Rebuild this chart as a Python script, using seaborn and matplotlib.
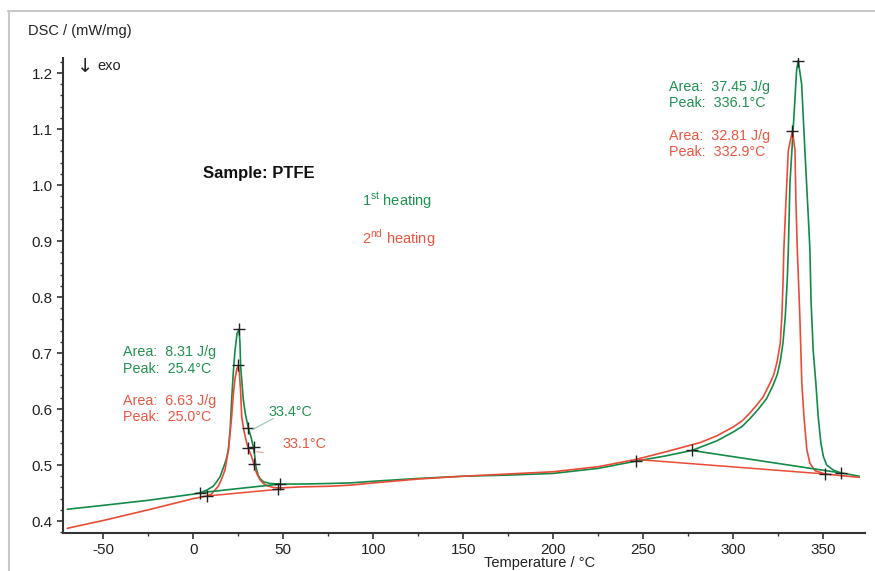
import matplotlib
matplotlib.use("Agg")
import matplotlib.pyplot as plt
from matplotlib.lines import Line2D
from matplotlib.ticker import MultipleLocator, FormatStrFormatter
import pandas as pd
import seaborn as sns

# 1st heating (green): temperature / DSC signal
t_first = [-70, -50, -25, 0, 3.7, 7.4, 11, 13, 15, 16.7, 18.3, 19.5, 20.5, 21.3,
           22.2, 23.2, 24.3, 25.4, 25.9, 26.3, 27.8, 29.0, 30.6, 32.2, 33.3, 34.2,
           34.8, 36.0, 37.0, 39.0, 42.6, 48.2, 60, 75, 87, 100, 125, 150, 175, 200,
           225, 246, 262, 277, 290.8, 300, 305, 309.3, 314, 318.6, 322.2, 324.5,
           326.1, 327.6, 328.9, 330.0, 330.6, 331.5, 333.7, 335.2, 336.1, 338.0,
           339.8, 341.7, 342.6, 343.2, 344.4, 345.9, 347.2, 348.7, 350.1, 351.9,
           355.6, 359.6, 365, 370]
dsc_first = [0.421, 0.428, 0.437, 0.448, 0.4505, 0.455, 0.462, 0.470, 0.480, 0.495,
             0.510, 0.527, 0.565, 0.616, 0.665, 0.705, 0.735, 0.742, 0.720, 0.676,
             0.616, 0.590, 0.566, 0.548, 0.533, 0.515, 0.497, 0.482, 0.476, 0.470,
             0.467, 0.466, 0.466, 0.467, 0.468, 0.471, 0.476, 0.480, 0.482, 0.485,
             0.494, 0.507, 0.516, 0.526, 0.543, 0.559, 0.569, 0.583, 0.600, 0.619,
             0.643, 0.662, 0.685, 0.717, 0.765, 0.830, 0.884, 1.003, 1.122, 1.205,
             1.222, 1.180, 1.062, 0.943, 0.884, 0.795, 0.705, 0.646, 0.586, 0.539,
             0.515, 0.500, 0.491, 0.486, 0.483, 0.480]

# 2nd heating (red)
t_second = [-70, -50, -25, 0, 7.4, 10, 13.9, 15.7, 17.6, 18.6, 19.5, 20.5, 21.3,
            22.2, 23.2, 24.2, 25.0, 25.6, 26.3, 26.9, 28.2, 29.7, 30.5, 32.4, 35.2,
            37.0, 38.9, 41.0, 44.4, 48.2, 60, 75, 87, 100, 125, 150, 175, 200, 225,
            246, 263, 281.5, 290.8, 300, 305, 309.3, 313, 316.7, 320.4, 322.6, 324.4,
            326.1, 327.0, 327.6, 328.1, 329.3, 330.6, 332.9, 334.3, 334.8, 335.6,
            337.0, 338.1, 339.3, 340.9, 342.6, 345.4, 351, 360, 370]
dsc_second = [0.387, 0.401, 0.420, 0.440, 0.4446, 0.448, 0.462, 0.475, 0.491, 0.510,
              0.527, 0.560, 0.586, 0.625, 0.655, 0.672, 0.678, 0.665, 0.630, 0.586,
              0.560, 0.539, 0.530, 0.515, 0.485, 0.474, 0.467, 0.463, 0.460, 0.459,
              0.461, 0.462, 0.464, 0.468, 0.475, 0.480, 0.484, 0.488, 0.497, 0.510,
              0.524, 0.540, 0.552, 0.568, 0.579, 0.593, 0.607, 0.622, 0.646, 0.662,
              0.685, 0.717, 0.765, 0.820, 0.884, 0.973, 1.062, 1.097, 1.062, 0.973,
              0.884, 0.765, 0.646, 0.586, 0.527, 0.503, 0.490, 0.484, 0.481, 0.478]

# integration baselines (start, end)
base_first_t = [[3.7, 48.2], [277, 359.6]]
base_first_y = [[0.4505, 0.466], [0.526, 0.486]]
base_second_t = [[7.4, 47.2], [246, 351]]
base_second_y = [[0.4446, 0.4566], [0.510, 0.484]]

# "+" marks placed by the evaluation software
mark_t = [3.7, 48.2, 25.4, 30.6, 33.9, 33.6, 246, 277, 336.1, 359.6,
          7.4, 47.2, 25.0, 30.3, 332.9, 351]
mark_y = [0.4505, 0.466, 0.742, 0.566, 0.532, 0.502, 0.508, 0.526, 1.222, 0.486,
          0.4446, 0.4566, 0.678, 0.530, 1.097, 0.484]

GREEN = "#138a48"
RED = "#ea4b37"
GREEN_TXT = "#1f9150"
RED_TXT = "#ec5540"

sns.set_theme(style="ticks")
plt.rcParams["font.family"] = ["Liberation Sans", "DejaVu Sans"]
plt.rcParams["mathtext.fontset"] = "custom"
plt.rcParams["mathtext.rm"] = "Liberation Sans"
plt.rcParams["axes.unicode_minus"] = False

curves = pd.concat([
    pd.DataFrame({"T": t_first, "DSC": dsc_first, "run": "1st"}),
    pd.DataFrame({"T": t_second, "DSC": dsc_second, "run": "2nd"}),
])

fig = plt.figure(figsize=(8.75, 5.71), dpi=100)
ax = fig.add_axes([63 / 875, 38 / 571, 802 / 875, 475 / 571])

sns.lineplot(data=curves, x="T", y="DSC", hue="run", sort=False, estimator=None,
             palette={"1st": GREEN, "2nd": RED}, linewidth=1.2, legend=False, ax=ax)

for ts, ys in zip(base_first_t, base_first_y):
    ax.plot(ts, ys, color=GREEN, lw=1.2)
for ts, ys in zip(base_second_t, base_second_y):
    ax.plot(ts, ys, color=RED, lw=1.1)

ax.plot(mark_t, mark_y, ls="none", marker="+", ms=8, mew=1.0, color="#222222")

# leader lines for the inflection temperatures
ax.plot([32.4, 44.4], [0.5625, 0.583], color="#9cc9bf", lw=0.9)
ax.plot([35.2, 38.9], [0.524, 0.522], color="#f2a9a0", lw=0.9)

ax.set_xlim(-72.4, 373.2)
ax.set_ylim(0.3786, 1.2268)
ax.xaxis.set_major_locator(MultipleLocator(50))
ax.xaxis.set_minor_locator(MultipleLocator(25))
ax.yaxis.set_major_locator(MultipleLocator(0.1))
ax.yaxis.set_minor_locator(MultipleLocator(0.02))
ax.yaxis.set_major_formatter(FormatStrFormatter("%.1f"))
ax.tick_params(which="major", direction="out", length=4, width=1.2, labelsize=11,
               color="#333333", labelcolor="#222222")
ax.tick_params(which="minor", direction="out", length=2.5, width=1.0, color="#333333")
sns.despine(ax=ax)
for s in ("left", "bottom"):
    ax.spines[s].set_linewidth(1.5)
    ax.spines[s].set_color("#333333")
ax.set_xlabel("")
ax.set_ylabel("")

fig.text(540 / 875, 1 - 563 / 571, "Temperature / °C", ha="center", va="center",
         fontsize=10.5, color="#222222")
fig.text(28 / 875, 1 - 31 / 571, "DSC / (mW/mg)", ha="left", va="center",
         fontsize=10.5, color="#222222")
ax.text(-64.5, 1.212, "↓", ha="left", va="center", fontsize=14, color="#222222",
        family="DejaVu Sans")
ax.text(-53.5, 1.212, "exo", ha="left", va="center", fontsize=10.5, color="#222222")

ax.text(5.4, 1.021, "Sample: PTFE", fontsize=12, fontweight="bold", va="center",
        color="#111111")
ax.text(93.7, 0.971, "1$^{\\mathregular{st}}$ heating", fontsize=10.5,
        va="center", color=GREEN_TXT)
ax.text(93.7, 0.905, "2$^{\\mathregular{nd}}$ heating", fontsize=10.5,
        va="center", color=RED_TXT)

ax.text(-39, 0.702, "Area:  8.31 J/g", fontsize=10.3, va="center", color=GREEN_TXT)
ax.text(-39, 0.671, "Peak:  25.4°C", fontsize=10.3, va="center", color=GREEN_TXT)
ax.text(-39, 0.614, "Area:  6.63 J/g", fontsize=10.3, va="center", color=RED_TXT)
ax.text(-39, 0.586, "Peak:  25.0°C", fontsize=10.3, va="center", color=RED_TXT)
ax.text(41.5, 0.595, "33.4°C", fontsize=10.3, va="center", color=GREEN_TXT)
ax.text(49.8, 0.5375, "33.1°C", fontsize=10.3, va="center", color=RED_TXT)

ax.text(264.3, 1.175, "Area:  37.45 J/g", fontsize=10.3, va="center", color=GREEN_TXT)
ax.text(264.3, 1.146, "Peak:  336.1°C", fontsize=10.3, va="center", color=GREEN_TXT)
ax.text(264.3, 1.0875, "Area:  32.81 J/g", fontsize=10.3, va="center", color=RED_TXT)
ax.text(264.3, 1.059, "Peak:  332.9°C", fontsize=10.3, va="center", color=RED_TXT)

# light frame of the original screenshot
fig.add_artist(Line2D([8 / 875, 1], [1 - 11 / 571, 1 - 11 / 571],
                      transform=fig.transFigure, color="#c8c8c8", lw=1.5))
fig.add_artist(Line2D([9 / 875, 9 / 875], [0, 1 - 11 / 571],
                      transform=fig.transFigure, color="#c8c8c8", lw=1.5))

fig.savefig("out.png", dpi=100)
